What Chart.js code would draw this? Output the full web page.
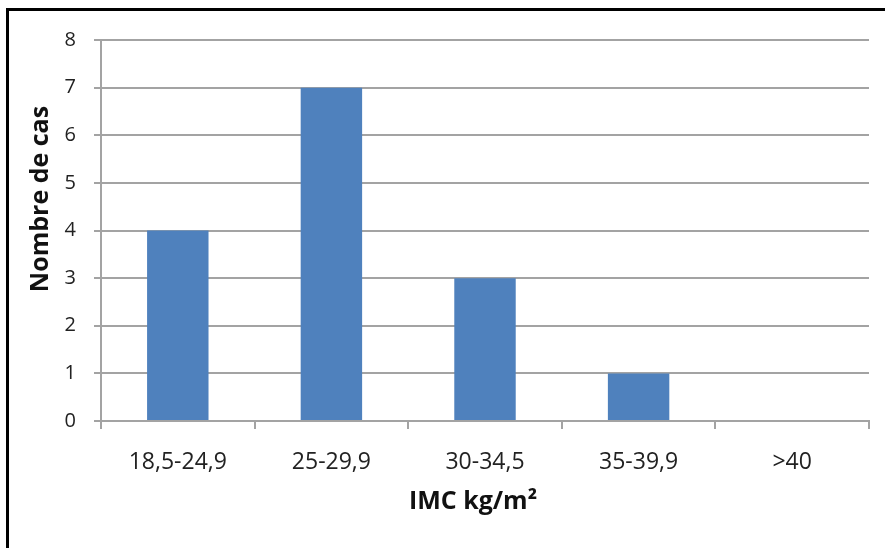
<!DOCTYPE html>
<html>
<head>
<meta charset="utf-8">
<script src="https://cdn.jsdelivr.net/npm/chart.js@4"></script>
<style>
  html, body { margin: 0; padding: 0; background: #fff; }
  #wrap { width: 885px; height: 548px; position: relative; }
</style>
</head>
<body>
<div id="wrap"><canvas id="imc-chart"></canvas></div>
<script>
// IMC classes and case counts
const categories = ['18,5-24,9', '25-29,9', '30-34,5', '35-39,9', '>40'];
const counts = [4, 7, 3, 1, 0];
const yTicks = [0, 1, 2, 3, 4, 5, 6, 7, 8];

const xTitle = 'IMC kg/m²';
const yTitle = 'Nombre de cas';

const AXIS_GREY = '#a3a3a3';
const FONT = 'Open Sans';

// black frame on the left/top edges plus the two axis titles,
// which sit a little off-centre like the spreadsheet original
const decorPlugin = {
  id: 'decor',
  afterDraw(chart) {
    const ctx = chart.ctx;
    ctx.save();
    ctx.strokeStyle = '#000';
    ctx.lineWidth = 3;
    ctx.beginPath();
    ctx.moveTo(7.5, 560);
    ctx.lineTo(7.5, 9.5);
    ctx.lineTo(900, 9.5);
    ctx.stroke();

    ctx.fillStyle = '#111';
    ctx.font = `bold 25px "${FONT}"`;
    ctx.textAlign = 'center';
    ctx.textBaseline = 'middle';
    ctx.fillText(xTitle, 473, 502);

    ctx.translate(40.5, 199);
    ctx.rotate(-Math.PI / 2);
    ctx.fillText(yTitle, 0, 0);
    ctx.restore();
  },
};

new Chart(document.getElementById('imc-chart'), {
  type: 'bar',
  data: {
    labels: categories,
    datasets: [
      {
        label: yTitle,
        data: counts,
        backgroundColor: '#4f81bd',
        borderWidth: 0,
        barPercentage: 0.4,
        categoryPercentage: 1,
      },
    ],
  },
  options: {
    responsive: true,
    maintainAspectRatio: false,
    animation: false,
    layout: { padding: { top: 40, right: 16, left: 0, bottom: 0 } },
    plugins: {
      legend: { display: false },
      tooltip: { enabled: false },
    },
    scales: {
      x: {
        grid: {
          drawOnChartArea: false,
          drawTicks: true,
          tickLength: 8,
          color: AXIS_GREY,
          lineWidth: 2,
        },
        border: { color: AXIS_GREY, width: 2 },
        ticks: {
          color: '#222',
          padding: 20,
          font: { family: FONT, size: 23 },
        },
        afterFit(scale) {
          scale.height = 127;
        },
      },
      y: {
        min: 0,
        max: 8,
        afterBuildTicks(scale) {
          scale.ticks = yTicks.map((v) => ({ value: v }));
        },
        grid: {
          color: AXIS_GREY,
          lineWidth: 2,
          drawTicks: true,
          tickLength: 7,
        },
        border: { color: AXIS_GREY, width: 2 },
        ticks: {
          color: '#222',
          padding: 18,
          font: { family: FONT, size: 20 },
        },
        afterFit(scale) {
          scale.width = 101;
        },
      },
    },
  },
  plugins: [decorPlugin],
});
</script>
</body>
</html>
